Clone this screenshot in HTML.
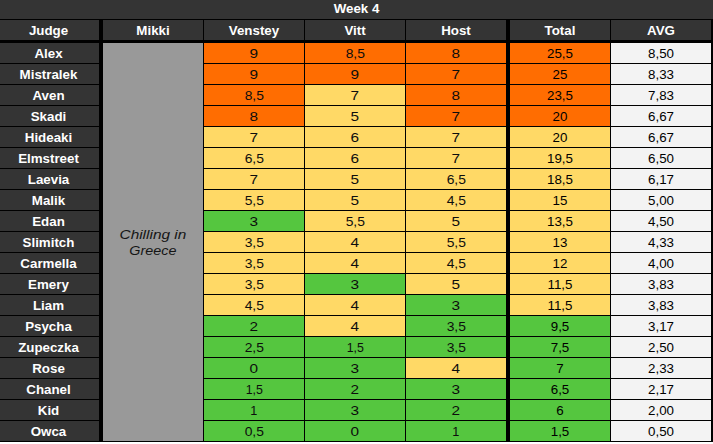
<!DOCTYPE html>
<html><head><meta charset="utf-8"><title>Week 4</title>
<style>
html,body{margin:0;padding:0;}
body{width:713px;height:444px;background:#000;position:relative;overflow:hidden;font-family:"Liberation Sans",sans-serif;font-size:13.33px;}
.c{position:absolute;height:20px;line-height:22px;text-align:center;white-space:nowrap;overflow:hidden;}
.d{background:#343434;color:#fff;font-weight:bold;}
.o{background:#ff6d01;}
.y{background:#ffd966;}
.g{background:#55c63f;}
.a{background:#f3f3f3;color:#000;}
.s{color:#0d0d0d;}
.s span{display:inline-block;transform-origin:50% 50%;}
.t{color:#000;}
.m{background:#999;}
</style></head><body>

<div class="c d" style="left:0;top:0;width:713px;height:19px;line-height:18px;">Week 4</div>
<div class="c d" style="left:0px;top:20px;width:99px;padding-right:2px;box-sizing:border-box;">Judge</div>
<div class="c d" style="left:103px;top:20px;width:100px;">Mikki</div>
<div class="c d" style="left:204px;top:20px;width:100px;">Venstey</div>
<div class="c d" style="left:305px;top:20px;width:100px;">Vitt</div>
<div class="c d" style="left:406px;top:20px;width:100px;">Host</div>
<div class="c d" style="left:510px;top:20px;width:100px;">Total</div>
<div class="c d" style="left:611px;top:20px;width:100px;">AVG</div>
<div class="c m" style="left:103px;top:43px;width:100px;height:398px;"></div>
<div class="mk" style="position:absolute;left:103px;top:226.5px;width:100px;text-align:center;font-style:italic;color:#151515;line-height:16px;"><span style="display:inline-block;transform:scaleX(1.155)">Chilling in</span><br><span style="display:inline-block;transform:scaleX(1.075)">Greece</span></div>
<div class="c d" style="left:0px;top:43px;width:99px;padding-right:2px;box-sizing:border-box;">Alex</div>
<div class="c s o" style="left:204px;top:43px;width:100px;"><span style="transform:scaleX(1.15)">9</span></div>
<div class="c s o" style="left:305px;top:43px;width:100px;"><span style="transform:scaleX(1.04)">8,5</span></div>
<div class="c s o" style="left:406px;top:43px;width:100px;"><span style="transform:scaleX(1.15)">8</span></div>
<div class="c t o" style="left:510px;top:43px;width:100px;">25,5</div>
<div class="c a" style="left:611px;top:43px;width:100px;">8,50</div>
<div class="c d" style="left:0px;top:64px;width:99px;padding-right:2px;box-sizing:border-box;">Mistralek</div>
<div class="c s o" style="left:204px;top:64px;width:100px;"><span style="transform:scaleX(1.15)">9</span></div>
<div class="c s o" style="left:305px;top:64px;width:100px;"><span style="transform:scaleX(1.15)">9</span></div>
<div class="c s o" style="left:406px;top:64px;width:100px;"><span style="transform:scaleX(1.15)">7</span></div>
<div class="c t o" style="left:510px;top:64px;width:100px;">25</div>
<div class="c a" style="left:611px;top:64px;width:100px;">8,33</div>
<div class="c d" style="left:0px;top:85px;width:99px;padding-right:2px;box-sizing:border-box;">Aven</div>
<div class="c s o" style="left:204px;top:85px;width:100px;"><span style="transform:scaleX(1.04)">8,5</span></div>
<div class="c s y" style="left:305px;top:85px;width:100px;"><span style="transform:scaleX(1.15)">7</span></div>
<div class="c s o" style="left:406px;top:85px;width:100px;"><span style="transform:scaleX(1.15)">8</span></div>
<div class="c t o" style="left:510px;top:85px;width:100px;">23,5</div>
<div class="c a" style="left:611px;top:85px;width:100px;">7,83</div>
<div class="c d" style="left:0px;top:106px;width:99px;padding-right:2px;box-sizing:border-box;">Skadi</div>
<div class="c s o" style="left:204px;top:106px;width:100px;"><span style="transform:scaleX(1.15)">8</span></div>
<div class="c s y" style="left:305px;top:106px;width:100px;"><span style="transform:scaleX(1.15)">5</span></div>
<div class="c s o" style="left:406px;top:106px;width:100px;"><span style="transform:scaleX(1.15)">7</span></div>
<div class="c t o" style="left:510px;top:106px;width:100px;">20</div>
<div class="c a" style="left:611px;top:106px;width:100px;">6,67</div>
<div class="c d" style="left:0px;top:127px;width:99px;padding-right:2px;box-sizing:border-box;">Hideaki</div>
<div class="c s y" style="left:204px;top:127px;width:100px;"><span style="transform:scaleX(1.15)">7</span></div>
<div class="c s y" style="left:305px;top:127px;width:100px;"><span style="transform:scaleX(1.15)">6</span></div>
<div class="c s y" style="left:406px;top:127px;width:100px;"><span style="transform:scaleX(1.15)">7</span></div>
<div class="c t y" style="left:510px;top:127px;width:100px;">20</div>
<div class="c a" style="left:611px;top:127px;width:100px;">6,67</div>
<div class="c d" style="left:0px;top:148px;width:99px;padding-right:2px;box-sizing:border-box;">Elmstreet</div>
<div class="c s y" style="left:204px;top:148px;width:100px;"><span style="transform:scaleX(1.04)">6,5</span></div>
<div class="c s y" style="left:305px;top:148px;width:100px;"><span style="transform:scaleX(1.15)">6</span></div>
<div class="c s y" style="left:406px;top:148px;width:100px;"><span style="transform:scaleX(1.15)">7</span></div>
<div class="c t y" style="left:510px;top:148px;width:100px;">19,5</div>
<div class="c a" style="left:611px;top:148px;width:100px;">6,50</div>
<div class="c d" style="left:0px;top:169px;width:99px;padding-right:2px;box-sizing:border-box;">Laevia</div>
<div class="c s y" style="left:204px;top:169px;width:100px;"><span style="transform:scaleX(1.15)">7</span></div>
<div class="c s y" style="left:305px;top:169px;width:100px;"><span style="transform:scaleX(1.15)">5</span></div>
<div class="c s y" style="left:406px;top:169px;width:100px;"><span style="transform:scaleX(1.04)">6,5</span></div>
<div class="c t y" style="left:510px;top:169px;width:100px;">18,5</div>
<div class="c a" style="left:611px;top:169px;width:100px;">6,17</div>
<div class="c d" style="left:0px;top:190px;width:99px;padding-right:2px;box-sizing:border-box;">Malik</div>
<div class="c s y" style="left:204px;top:190px;width:100px;"><span style="transform:scaleX(1.04)">5,5</span></div>
<div class="c s y" style="left:305px;top:190px;width:100px;"><span style="transform:scaleX(1.15)">5</span></div>
<div class="c s y" style="left:406px;top:190px;width:100px;"><span style="transform:scaleX(1.04)">4,5</span></div>
<div class="c t y" style="left:510px;top:190px;width:100px;">15</div>
<div class="c a" style="left:611px;top:190px;width:100px;">5,00</div>
<div class="c d" style="left:0px;top:211px;width:99px;padding-right:2px;box-sizing:border-box;">Edan</div>
<div class="c s g" style="left:204px;top:211px;width:100px;"><span style="transform:scaleX(1.15)">3</span></div>
<div class="c s y" style="left:305px;top:211px;width:100px;"><span style="transform:scaleX(1.04)">5,5</span></div>
<div class="c s y" style="left:406px;top:211px;width:100px;"><span style="transform:scaleX(1.15)">5</span></div>
<div class="c t y" style="left:510px;top:211px;width:100px;">13,5</div>
<div class="c a" style="left:611px;top:211px;width:100px;">4,50</div>
<div class="c d" style="left:0px;top:232px;width:99px;padding-right:2px;box-sizing:border-box;">Slimitch</div>
<div class="c s y" style="left:204px;top:232px;width:100px;"><span style="transform:scaleX(1.04)">3,5</span></div>
<div class="c s y" style="left:305px;top:232px;width:100px;"><span style="transform:scaleX(1.15)">4</span></div>
<div class="c s y" style="left:406px;top:232px;width:100px;"><span style="transform:scaleX(1.04)">5,5</span></div>
<div class="c t y" style="left:510px;top:232px;width:100px;">13</div>
<div class="c a" style="left:611px;top:232px;width:100px;">4,33</div>
<div class="c d" style="left:0px;top:253px;width:99px;padding-right:2px;box-sizing:border-box;">Carmella</div>
<div class="c s y" style="left:204px;top:253px;width:100px;"><span style="transform:scaleX(1.04)">3,5</span></div>
<div class="c s y" style="left:305px;top:253px;width:100px;"><span style="transform:scaleX(1.15)">4</span></div>
<div class="c s y" style="left:406px;top:253px;width:100px;"><span style="transform:scaleX(1.04)">4,5</span></div>
<div class="c t y" style="left:510px;top:253px;width:100px;">12</div>
<div class="c a" style="left:611px;top:253px;width:100px;">4,00</div>
<div class="c d" style="left:0px;top:274px;width:99px;padding-right:2px;box-sizing:border-box;">Emery</div>
<div class="c s y" style="left:204px;top:274px;width:100px;"><span style="transform:scaleX(1.04)">3,5</span></div>
<div class="c s g" style="left:305px;top:274px;width:100px;"><span style="transform:scaleX(1.15)">3</span></div>
<div class="c s y" style="left:406px;top:274px;width:100px;"><span style="transform:scaleX(1.15)">5</span></div>
<div class="c t y" style="left:510px;top:274px;width:100px;">11,5</div>
<div class="c a" style="left:611px;top:274px;width:100px;">3,83</div>
<div class="c d" style="left:0px;top:295px;width:99px;padding-right:2px;box-sizing:border-box;">Liam</div>
<div class="c s y" style="left:204px;top:295px;width:100px;"><span style="transform:scaleX(1.04)">4,5</span></div>
<div class="c s y" style="left:305px;top:295px;width:100px;"><span style="transform:scaleX(1.15)">4</span></div>
<div class="c s g" style="left:406px;top:295px;width:100px;"><span style="transform:scaleX(1.15)">3</span></div>
<div class="c t y" style="left:510px;top:295px;width:100px;">11,5</div>
<div class="c a" style="left:611px;top:295px;width:100px;">3,83</div>
<div class="c d" style="left:0px;top:316px;width:99px;padding-right:2px;box-sizing:border-box;">Psycha</div>
<div class="c s g" style="left:204px;top:316px;width:100px;"><span style="transform:scaleX(1.15)">2</span></div>
<div class="c s y" style="left:305px;top:316px;width:100px;"><span style="transform:scaleX(1.15)">4</span></div>
<div class="c s g" style="left:406px;top:316px;width:100px;"><span style="transform:scaleX(1.04)">3,5</span></div>
<div class="c t g" style="left:510px;top:316px;width:100px;">9,5</div>
<div class="c a" style="left:611px;top:316px;width:100px;">3,17</div>
<div class="c d" style="left:0px;top:337px;width:99px;padding-right:2px;box-sizing:border-box;">Zupeczka</div>
<div class="c s g" style="left:204px;top:337px;width:100px;"><span style="transform:scaleX(1.04)">2,5</span></div>
<div class="c s g" style="left:305px;top:337px;width:100px;"><span style="transform:scaleX(0.93)">1,5</span></div>
<div class="c s g" style="left:406px;top:337px;width:100px;"><span style="transform:scaleX(1.04)">3,5</span></div>
<div class="c t g" style="left:510px;top:337px;width:100px;">7,5</div>
<div class="c a" style="left:611px;top:337px;width:100px;">2,50</div>
<div class="c d" style="left:0px;top:358px;width:99px;padding-right:2px;box-sizing:border-box;">Rose</div>
<div class="c s g" style="left:204px;top:358px;width:100px;"><span style="transform:scaleX(1.15)">0</span></div>
<div class="c s g" style="left:305px;top:358px;width:100px;"><span style="transform:scaleX(1.15)">3</span></div>
<div class="c s y" style="left:406px;top:358px;width:100px;"><span style="transform:scaleX(1.15)">4</span></div>
<div class="c t g" style="left:510px;top:358px;width:100px;">7</div>
<div class="c a" style="left:611px;top:358px;width:100px;">2,33</div>
<div class="c d" style="left:0px;top:379px;width:99px;padding-right:2px;box-sizing:border-box;">Chanel</div>
<div class="c s g" style="left:204px;top:379px;width:100px;"><span style="transform:scaleX(0.93)">1,5</span></div>
<div class="c s g" style="left:305px;top:379px;width:100px;"><span style="transform:scaleX(1.15)">2</span></div>
<div class="c s g" style="left:406px;top:379px;width:100px;"><span style="transform:scaleX(1.15)">3</span></div>
<div class="c t g" style="left:510px;top:379px;width:100px;">6,5</div>
<div class="c a" style="left:611px;top:379px;width:100px;">2,17</div>
<div class="c d" style="left:0px;top:400px;width:99px;padding-right:2px;box-sizing:border-box;">Kid</div>
<div class="c s g" style="left:204px;top:400px;width:100px;"><span style="transform:scaleX(0.95)">1</span></div>
<div class="c s g" style="left:305px;top:400px;width:100px;"><span style="transform:scaleX(1.15)">3</span></div>
<div class="c s g" style="left:406px;top:400px;width:100px;"><span style="transform:scaleX(1.15)">2</span></div>
<div class="c t g" style="left:510px;top:400px;width:100px;">6</div>
<div class="c a" style="left:611px;top:400px;width:100px;">2,00</div>
<div class="c d" style="left:0px;top:421px;width:99px;padding-right:2px;box-sizing:border-box;">Owca</div>
<div class="c s g" style="left:204px;top:421px;width:100px;"><span style="transform:scaleX(1.04)">0,5</span></div>
<div class="c s g" style="left:305px;top:421px;width:100px;"><span style="transform:scaleX(1.15)">0</span></div>
<div class="c s g" style="left:406px;top:421px;width:100px;"><span style="transform:scaleX(0.95)">1</span></div>
<div class="c t g" style="left:510px;top:421px;width:100px;">1,5</div>
<div class="c a" style="left:611px;top:421px;width:100px;">0,50</div>
<div style="position:absolute;left:0;top:442px;width:713px;height:2px;background:#fff;"></div>
</body></html>
